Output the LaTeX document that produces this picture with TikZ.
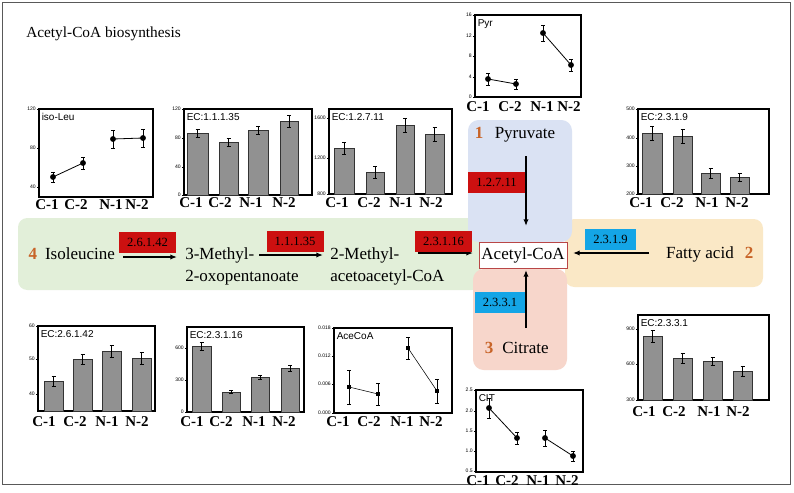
\documentclass[tikz,border=0pt]{standalone}
\usepackage{fontspec}
\setmainfont{Liberation Serif}
\newfontfamily\sansf{Liberation Sans}
\usetikzlibrary{arrows.meta,calc}
\definecolor{ecred}{RGB}{204,16,16}
\definecolor{ecblue}{RGB}{20,165,230}
\definecolor{numor}{RGB}{200,100,40}
\definecolor{gboxc}{RGB}{226,239,217}
\definecolor{bboxc}{RGB}{218,226,243}
\definecolor{oboxc}{RGB}{250,232,198}
\definecolor{pboxc}{RGB}{247,214,203}
\definecolor{acred}{RGB}{185,70,70}
\definecolor{barg}{RGB}{145,145,145}
\newcommand{\mkbar}[5]{%
  \filldraw[barstyle] (#1,#5) rectangle (#2,#3);
  \draw[errstyle] ({(#1+#2)/2},{#3-#4}) -- ({(#1+#2)/2},{#3+#4})
     ({(#1+#2)/2-2},{#3-#4}) -- ({(#1+#2)/2+2},{#3-#4})
     ({(#1+#2)/2-2},{#3+#4}) -- ({(#1+#2)/2+2},{#3+#4});}
\newcommand{\mkpt}[3]{%
  \draw[errstyle] (#1,{#2-#3}) -- (#1,{#2+#3}) ({#1-2},{#2-#3}) -- ({#1+2},{#2-#3}) ({#1-2},{#2+#3}) -- ({#1+2},{#2+#3});
  \fill (#1,#2) circle[radius=2.2pt];}
\newcommand{\mksq}[3]{%
  \draw[errstyle] (#1,{#2-#3}) -- (#1,{#2+#3}) ({#1-2},{#2-#3}) -- ({#1+2},{#2-#3}) ({#1-2},{#2+#3}) -- ({#1+2},{#2+#3});
  \fill ({#1-1.6},{#2-1.6}) rectangle ({#1+1.6},{#2+1.6});}
\newcommand{\mkframe}[6]{%
  \draw[chartbox] (#2,#3) rectangle (#4,#5);
  \node[ctitle] (#1-title) at ({#2+2.5},{#3+4}) {#6};}
\newcommand{\mktick}[4]{%
  \draw[tickline] (#2,#3) -- ({#2-2.5},#3);
  \node[ticklab] (#1) at ({#2-3},#3) {#4};}
\newcommand{\mkxlabs}[6]{%
  \node[xlab] (#1-c1) at (#3,#2) {C-1};
  \node[xlab] (#1-c2) at (#4,#2) {C-2};
  \node[xlab] (#1-n1) at (#5,#2) {N-1};
  \node[xlab] (#1-n2) at (#6,#2) {N-2};}
\begin{document}
\begin{tikzpicture}[x=0.75pt,y=-0.75pt,
  chartbox/.style={draw=black,line width=0.9pt},
  barstyle/.style={fill=barg,draw=black!80,line width=0.6pt},
  errstyle/.style={draw=black,line width=0.4pt},
  dline/.style={draw=black,line width=0.6pt},
  tickline/.style={draw=black,line width=0.5pt},
  ctitle/.style={anchor=north west,inner sep=0pt,font=\sansf\fontsize{7.5}{8}\selectfont},
  ticklab/.style={anchor=east,inner sep=0pt,font=\sansf\fontsize{3.8}{4}\selectfont},
  xlab/.style={inner sep=0pt,font=\bfseries\fontsize{11.25}{12}\selectfont},
  mtext/.style={inner sep=0pt,anchor=base,font=\fontsize{12.75}{14}\selectfont},
  numtext/.style={inner sep=0pt,anchor=base,text=numor,font=\bfseries\fontsize{12.75}{14}\selectfont},
  enzr/.style={fill=ecred,inner sep=0pt,minimum width=42.75pt,minimum height=15.75pt,font=\fontsize{9.4}{10}\selectfont},
  enzb/.style={fill=ecblue,inner sep=0pt,minimum width=38pt,minimum height=15.75pt,font=\fontsize{9.4}{10}\selectfont},
  parr/.style={draw=black,line width=1.1pt,-{Latex[length=5pt,width=4pt]}},
  acbox/.style={draw=acred,fill=white,line width=0.6pt,inner sep=0pt,minimum width=66pt,minimum height=19.5pt,font=\fontsize{12.75}{14}\selectfont}
]
\useasboundingbox (0,0) rectangle (794,493);
\fill[white] (0,0) rectangle (794,493);
\draw[black!65,line width=0.7pt] (2,2) rectangle (790,484);
\node[anchor=base west,inner sep=0pt,font=\fontsize{11.5}{13}\selectfont] (title) at (26,37) {Acetyl-CoA biosynthesis};

% ---- pathway backgrounds
\fill[gboxc,rounded corners=7pt] (18,218) rectangle (481,290);
\fill[oboxc,rounded corners=7pt] (565,219) rectangle (763,287);
\fill[bboxc,rounded corners=8pt] (468,120) rectangle (572,242);
\fill[pboxc,rounded corners=8pt] (473,269) rectangle (567,370);

% ---- pathway nodes
\node[acbox] (acoa) at (523,255) {Acetyl-CoA};
\node[numtext] (n1) at (479,138) {1};
\node[mtext] (pyr) at (525,138) {Pyruvate};
\node[numtext] (n3) at (489,353) {3};
\node[mtext] (cit) at (525.5,353) {Citrate};
\node[mtext] (fa) at (700,258) {Fatty acid};
\node[numtext] (n2) at (749,258) {2};
\node[numtext] (n4) at (33,259) {4};
\node[mtext] (iso) at (80,259) {Isoleucine};
\node[mtext,anchor=base west] (m3) at (185,259) {3-Methyl-};
\node[mtext,anchor=base west] (m3b) at (185,281) {2-oxopentanoate};
\node[mtext,anchor=base west] (m2) at (330,259) {2-Methyl-};
\node[mtext,anchor=base west] (m2b) at (330,281) {acetoacetyl-CoA};

% ---- arrows
\coordinate (a1s) at (123,257); \coordinate (a1e) at (177,257);
\coordinate (a2s) at (259,255); \coordinate (a2e) at (323,255);
\coordinate (a3s) at (418,253); \coordinate (a3e) at (473,253);
\coordinate (a4s) at (526,156); \coordinate (a4e) at (526,226);
\coordinate (a5s) at (526,328); \coordinate (a5e) at (526,270);
\coordinate (a6s) at (649,253); \coordinate (a6e) at (573,253);
\draw[parr] (a1s) -- (a1e);
\draw[parr] (a2s) -- (a2e);
\draw[parr] (a3s) -- (a3e);
\draw[parr] (a4s) -- (a4e);
\draw[parr] (a5s) -- (a5e);
\draw[parr] (a6s) -- (a6e);
\node[enzr] (e1) at (147.5,242.5) {2.6.1.42};
\node[enzr] (e2) at (295,241.5) {1.1.1.35};
\node[enzr] (e3) at (443.5,241) {2.3.1.16};
\node[enzr] (e4) at (496.5,182.5) {1.2.7.11};
\node[enzb] (e5) at (500,302.5) {2.3.3.1};
\node[enzb] (e6) at (610.5,239) {2.3.1.9};

% ---- chart 1 iso-Leu
\mkframe{c1}{39}{109}{153}{197}{iso-Leu}
\foreach \yy/\lab [count=\k] in {109/120,148/80,187/40} {\mktick{c1t\k}{39}{\yy}{\lab}}
\draw[dline] (53,177) -- (83,163) (113,139) -- (143,138);
\mkpt{53}{177}{5}\mkpt{83}{163}{6}\mkpt{113}{139}{9}\mkpt{143}{138}{9}
\mkxlabs{c1}{205}{47}{76}{111}{137}

% ---- chart 2 EC:1.1.1.35
\mkframe{c2}{184}{109}{312}{195}{EC:1.1.1.35}
\foreach \yy/\lab [count=\k] in {109/120,138/80,167/40,195/0} {\mktick{c2t\k}{184}{\yy}{\lab}}
\mkbar{187}{208}{133}{4}{195}\mkbar{219}{238}{142}{4}{195}\mkbar{248}{268}{130}{4}{195}\mkbar{280}{298}{121}{6}{195}
\mkxlabs{c2}{203}{191}{220}{251}{284}

% ---- chart 3 EC:1.2.7.11
\mkframe{c3}{329}{109}{452}{194}{EC:1.2.7.11}
\foreach \yy/\lab [count=\k] in {118/1600,158/1200,194/800} {\mktick{c3t\k}{329}{\yy}{\lab}}
\mkbar{334}{354}{148}{6}{194}\mkbar{366}{384}{172}{6}{194}\mkbar{396}{414}{125}{7}{194}\mkbar{425}{444}{134}{7}{194}
\mkxlabs{c3}{203}{337}{369}{401}{431}

% ---- chart 4 Pyr
\mkframe{c4}{475}{15}{581}{97}{Pyr}
\foreach \yy/\lab [count=\k] in {15/16,36/12,56/8,77/4,97/0} {\mktick{c4t\k}{475}{\yy}{\lab}}
\draw[dline] (488,79) -- (516,84) (543,33) -- (571,65);
\mkpt{488}{79}{6}\mkpt{516}{84}{5}\mkpt{543}{33}{8}\mkpt{571}{65}{6}
\mkxlabs{c4}{107}{478}{510}{542}{569}

% ---- chart 5 EC:2.3.1.9
\mkframe{c5}{638}{109}{769}{194}{EC:2.3.1.9}
\foreach \yy/\lab [count=\k] in {109/500,138/400,166/300,194/200} {\mktick{c5t\k}{638}{\yy}{\lab}}
\mkbar{642}{662}{133}{7}{194}\mkbar{673}{692}{136}{7}{194}\mkbar{701}{720}{173}{5}{194}\mkbar{730}{749}{177}{4}{194}
\mkxlabs{c5}{203}{641}{672}{707}{737}

% ---- chart 6 EC:2.6.1.42
\mkframe{c6}{38}{326}{155}{411}{EC:2.6.1.42}
\foreach \yy/\lab [count=\k] in {326/60,359/50,394/40} {\mktick{c6t\k}{38}{\yy}{\lab}}
\mkbar{44}{63}{381}{5}{411}\mkbar{73}{92}{359}{5}{411}\mkbar{102}{121}{351}{6}{411}\mkbar{132}{151}{358}{6}{411}
\mkxlabs{c6}{422}{44}{75}{107}{137}

% ---- chart 7 EC:2.3.1.16
\mkframe{c7}{187}{327}{304}{412}{EC:2.3.1.16}
\foreach \yy/\lab [count=\k] in {348/600,380/300,412/0} {\mktick{c7t\k}{187}{\yy}{\lab}}
\mkbar{192}{211}{346}{4}{412}\mkbar{222}{240}{392}{1.5}{412}\mkbar{251}{269}{377}{2}{412}\mkbar{281}{299}{368}{3}{412}
\mkxlabs{c7}{422}{192}{221}{254}{284}

% ---- chart 8 AceCoA
\mkframe{c8}{334}{328}{452}{413}{AceCoA}
\foreach \yy/\lab [count=\k] in {328/0.018,356/0.012,384/0.006,413/0.000} {\mktick{c8t\k}{334}{\yy}{\lab}}
\draw[errstyle] (349,387) -- (378,394) (408,348) -- (437,391);
\mksq{349}{387}{17}\mksq{378}{394}{11}\mksq{408}{348}{11}\mksq{437}{391}{12}
\mkxlabs{c8}{422}{338}{369}{402}{431}

% ---- chart 9 CIT
\mkframe{c9}{476}{390}{583}{472}{CIT}
\foreach \yy/\lab [count=\k] in {390/2.5,411/2.0,431/1.5,451/1.0,471/0.5} {\mktick{c9t\k}{476}{\yy}{\lab}}
\draw[dline] (489,408) -- (517,438) (545,438) -- (573,456);
\mkpt{489}{408}{10}\mkpt{517}{438}{6}\mkpt{545}{438}{8}\mkpt{573}{456}{5}
\mkxlabs{c9}{481}{478}{507}{538}{567}

% ---- chart 10 EC:2.3.3.1
\mkframe{c10}{638}{315}{769}{400}{EC:2.3.3.1}
\foreach \yy/\lab [count=\k] in {329/900,364/600,400/300} {\mktick{c10t\k}{638}{\yy}{\lab}}
\mkbar{643}{662}{336}{6}{400}\mkbar{673}{692}{358}{5}{400}\mkbar{703}{722}{361}{4}{400}\mkbar{733}{752}{371}{5}{400}
\mkxlabs{c10}{412}{644}{674}{709}{738}
\end{tikzpicture}
\end{document}
